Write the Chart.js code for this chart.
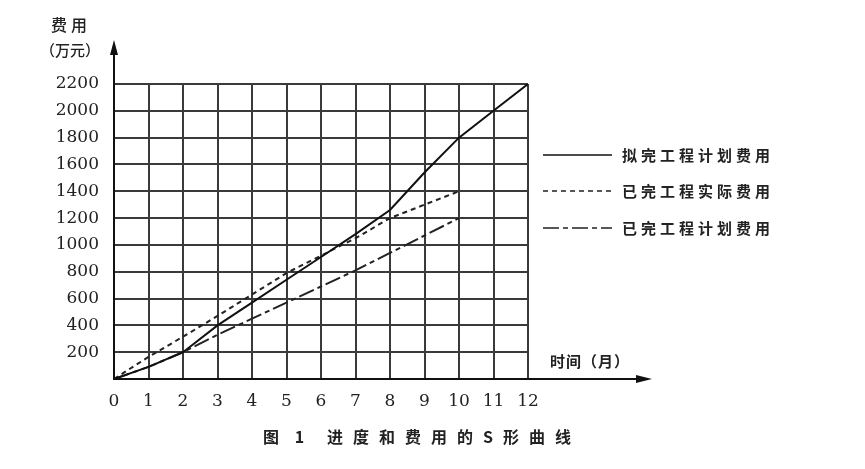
<!DOCTYPE html>
<html>
<head>
<meta charset="utf-8">
<script src="https://cdn.jsdelivr.net/npm/chart.js@4.4.1/dist/chart.umd.min.js"></script>
<style>
  html, body { margin: 0; padding: 0; background: #fff; }
  #wrap { width: 865px; height: 469px; position: relative; }
</style>
</head>
<body>
<div id="wrap"><canvas id="sChart" width="865" height="469"></canvas></div>
<script>
// months on the x axis
const months = [0, 1, 2, 3, 4, 5, 6, 7, 8, 9, 10, 11, 12];
const yTicks = [0, 200, 400, 600, 800, 1000, 1200, 1400, 1600, 1800, 2000, 2200];

// series (万元)
const plannedTotal  = [0, 90, 200, 400, 570, 740, 910, 1080, 1260, 1540, 1800, 2000, 2200]; // 拟完工程计划费用
const actualDone    = [0, 165, 315, 470, 630, 790, 920, 1050, 1200, 1300, 1400];           // 已完工程实际费用
const plannedDone   = [0, 90, 200, 330, 450, 570, 690, 810, 940, 1070, 1200];              // 已完工程计划费用

const seriesNames = ['拟完工程计划费用', '已完工程实际费用', '已完工程计划费用'];

const toPoints = (vals) => vals.map((v, i) => ({ x: months[i], y: v }));

const CJK = '"Noto Sans CJK SC", "Noto Sans", sans-serif';

// axis arrows, axis names, legend and caption
const decorations = {
  id: 'decorations',
  afterDraw(chart) {
    const ctx = chart.ctx;
    const a = chart.chartArea;
    ctx.save();
    ctx.strokeStyle = '#111';
    ctx.fillStyle = '#111';
    ctx.lineWidth = 2;
    // y axis extension + arrow
    ctx.beginPath();
    ctx.moveTo(a.left, a.bottom);
    ctx.lineTo(a.left, 50);
    ctx.stroke();
    ctx.beginPath();
    ctx.moveTo(a.left, 40);
    ctx.lineTo(a.left - 4, 55);
    ctx.lineTo(a.left + 4, 55);
    ctx.closePath();
    ctx.fill();
    // x axis extension + arrow
    ctx.beginPath();
    ctx.moveTo(a.left, a.bottom);
    ctx.lineTo(640, a.bottom);
    ctx.stroke();
    ctx.beginPath();
    ctx.moveTo(652, a.bottom);
    ctx.lineTo(636, a.bottom - 4);
    ctx.lineTo(636, a.bottom + 4);
    ctx.closePath();
    ctx.fill();

    // axis names
    ctx.fillStyle = '#222';
    ctx.textBaseline = 'middle';
    ctx.textAlign = 'center';
    ctx.font = '500 16px ' + CJK;
    ctx.letterSpacing = '4px';
    ctx.fillText('费用', 71, 25);
    ctx.font = '500 15px ' + CJK;
    ctx.letterSpacing = '0px';
    ctx.fillText('（万元）', 70, 50);
    ctx.textAlign = 'left';
    ctx.font = 'bold 15px ' + CJK;
    ctx.letterSpacing = '1px';
    ctx.fillText('时间（月）', 550, 361);

    // legend
    const rows = [155, 191, 228];
    chart.data.datasets.forEach((ds, i) => {
      const y = rows[i];
      ctx.save();
      ctx.strokeStyle = ds.borderColor;
      ctx.lineWidth = 1.6;
      ctx.setLineDash(ds.borderDash || []);
      ctx.beginPath();
      ctx.moveTo(543, y);
      ctx.lineTo(612, y);
      ctx.stroke();
      ctx.restore();
      ctx.fillStyle = '#222';
      ctx.font = 'bold 15px ' + CJK;
      ctx.letterSpacing = '4px';
      ctx.textAlign = 'left';
      ctx.fillText(ds.label, 622, y);
    });

    // caption
    ctx.font = 'bold 16px ' + CJK;
    ctx.letterSpacing = '6px';
    ctx.fillText('图 1', 263, 437);
    ctx.letterSpacing = '10px';
    ctx.fillText('进度和费用的S形曲线', 327, 437);
    ctx.restore();
  }
};

new Chart(document.getElementById('sChart').getContext('2d'), {
  type: 'line',
  data: {
    datasets: [
      {
        label: seriesNames[0],
        data: toPoints(plannedTotal),
        borderColor: '#111',
        borderWidth: 2,
        borderDash: [],
      },
      {
        label: seriesNames[1],
        data: toPoints(actualDone),
        borderColor: '#222',
        borderWidth: 2,
        borderDash: [5, 4],
      },
      {
        label: seriesNames[2],
        data: toPoints(plannedDone),
        borderColor: '#222',
        borderWidth: 2,
        borderDash: [16, 4, 5, 4],
      },
    ],
  },
  options: {
    responsive: false,
    animation: false,
    layout: { padding: { left: 0, right: 337, top: 84, bottom: 0 } },
    elements: {
      point: { radius: 0 },
      line: { tension: 0, fill: false },
    },
    scales: {
      x: {
        type: 'linear',
        min: 0,
        max: 12,
        afterFit: (scale) => { scale.height = 90; },
        afterBuildTicks: (scale) => { scale.ticks = months.map(v => ({ value: v })); },
        ticks: {
          padding: 12,
          color: '#222',
          font: { family: '"DejaVu Serif", serif', size: 17 },
        },
        grid: { color: '#3a3a3a', lineWidth: 2, drawTicks: false },
        border: { color: '#111', width: 2 },
      },
      y: {
        type: 'linear',
        min: 0,
        max: 2200,
        afterFit: (scale) => { scale.width = 114; },
        afterBuildTicks: (scale) => { scale.ticks = yTicks.map(v => ({ value: v })); },
        ticks: {
          padding: 15,
          color: '#222',
          font: { family: '"DejaVu Serif", serif', size: 17 },
          callback: (v) => (v === 0 ? '' : v),
        },
        grid: { color: '#3a3a3a', lineWidth: 2, drawTicks: false },
        border: { color: '#111', width: 2 },
      },
    },
    plugins: {
      legend: { display: false },
      title: { display: false },
      tooltip: { enabled: false },
    },
  },
  plugins: [decorations],
});
</script>
</body>
</html>
